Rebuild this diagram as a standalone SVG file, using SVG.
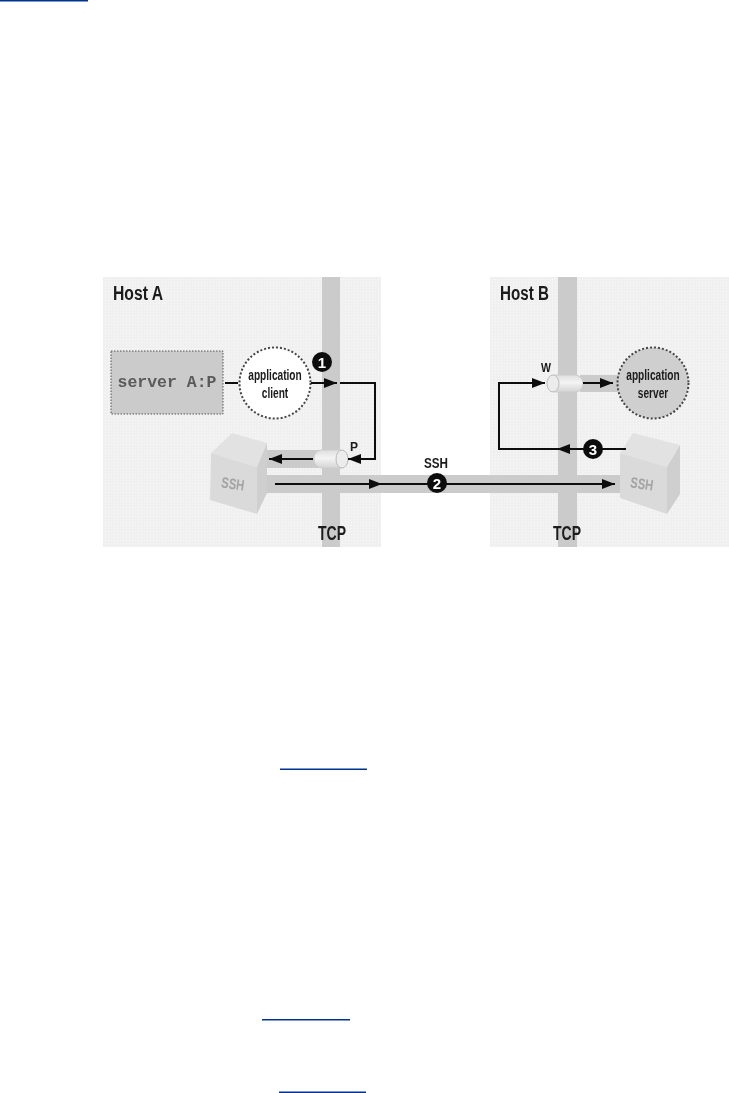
<svg xmlns="http://www.w3.org/2000/svg" width="729" height="1093" viewBox="0 0 729 1093">
<style>
.hd{font:bold 20px "Liberation Sans",Arial,sans-serif;fill:#1a1a1a}
.lb{font:bold 14.500px "Liberation Sans",Arial,sans-serif;fill:#1a1a1a;text-anchor:middle}
.sm{font:bold 13px "Liberation Sans",Arial,sans-serif;fill:#1a1a1a;text-anchor:middle}
.cu{font:bold 15px "Liberation Sans",Arial,sans-serif;fill:#a4a4a4;text-anchor:middle}
.nm{font:bold 15px "Liberation Sans",Arial,sans-serif;fill:#fff;text-anchor:middle}
.ln{fill:none;stroke:#111;stroke-width:2}
.bd{fill:#111}
.bar{fill:#cbcbcb}
.top{fill:#e2e2e2}.frt{fill:#dadada}.sid{fill:#cfcfcf}
.link{fill:#00338e}
</style>
<defs>
<pattern id="dots" width="3" height="3" patternUnits="userSpaceOnUse"><rect width="3" height="3" fill="#f0f0f0"/><rect width="1" height="1" fill="#f9f9f9"/></pattern>
<marker id="ah" viewBox="0 0 13 10" refX="13" refY="5" markerWidth="13" markerHeight="10" markerUnits="userSpaceOnUse" orient="auto"><path d="M0 0L13 5L0 10z" fill="#111"/></marker>
<linearGradient id="cyl" x1="0" y1="0" x2="0" y2="1"><stop offset="0" stop-color="#dedede"/><stop offset=".45" stop-color="#f4f4f4"/><stop offset="1" stop-color="#d4d4d4"/></linearGradient>
<filter id="soft" x="-2%" y="-2%" width="104%" height="104%"><feGaussianBlur stdDeviation="0.5"/></filter>
</defs>
<rect width="729" height="1093" fill="#fff"/>
<g id="links">
<rect class="link" x="0" y="0" width="88" height="1.5"/>
<rect class="link" x="280" y="768.5" width="87" height="1.5"/>
<rect class="link" x="262" y="1019" width="88" height="1.5"/>
<rect class="link" x="279" y="1091.5" width="87" height="1.5"/>
</g>
<g filter="url(#soft)">
<g id="host-a"><rect x="103" y="277" width="278" height="270" fill="url(#dots)"/><text class="hd" x="113" y="300" textLength="50" lengthAdjust="spacingAndGlyphs">Host A</text></g>
<g id="host-b"><rect x="490" y="277" width="239" height="270" fill="url(#dots)"/><text class="hd" x="500" y="300" textLength="49" lengthAdjust="spacingAndGlyphs">Host B</text></g>
<g id="tcp-a"><rect class="bar" x="322" y="277" width="18" height="270"/><text class="hd" x="318" y="540" textLength="28" lengthAdjust="spacingAndGlyphs">TCP</text></g>
<g id="tcp-b"><rect class="bar" x="558" y="277" width="19" height="270"/><text class="hd" x="553" y="540" textLength="28" lengthAdjust="spacingAndGlyphs">TCP</text></g>
<g id="bands">
<rect class="bar" x="265" y="450" width="60" height="18"/>
<rect class="bar" x="265" y="475" width="356" height="18"/>
<rect class="bar" x="580" y="375" width="40" height="17"/>
</g>
<g id="server-box"><rect x="111" y="351" width="112" height="63" fill="#cbcbcb" stroke="#555" stroke-width="1" stroke-dasharray="1.5 1.5"/><text x="167" y="387" font-family="Liberation Mono,monospace" font-size="16.500" font-weight="bold" fill="#5a5a5a" text-anchor="middle">server A:P</text></g>
<g id="application-client"><circle cx="275" cy="383" r="35.500" fill="#fff" stroke="#444" stroke-width="2" stroke-dasharray="2 2"/><text class="lb" transform="translate(275 380) scale(.7 1)">application</text><text class="lb" transform="translate(275 398) scale(.7 1)">client</text></g>
<g id="application-server"><circle cx="653" cy="383" r="35.500" fill="#cfcfcf" stroke="#444" stroke-width="2" stroke-dasharray="2 2"/><text class="lb" transform="translate(653 380) scale(.7 1)">application</text><text class="lb" transform="translate(653 398) scale(.7 1)">server</text></g>
<g id="ssh-a"><path class="top" d="M211 453L232 433L267 443L257 467z"/><path class="frt" d="M211 453L257 467V514L210 500z"/><path class="sid" d="M257 467L267 443V493L257 514z"/><text class="cu" x="233" y="489" transform="rotate(8 233 483)" textLength="23" lengthAdjust="spacingAndGlyphs">SSH</text></g>
<g id="ssh-b"><path class="top" d="M620 453L633 433L680 445L667 467z"/><path class="frt" d="M620 453L667 467V514L620 498z"/><path class="sid" d="M667 467L680 445V494L667 514z"/><text class="cu" x="642" y="489" transform="rotate(8 642 483)" textLength="23" lengthAdjust="spacingAndGlyphs">SSH</text></g>
<g id="port-p"><rect x="314" y="450" width="34" height="18" rx="8" fill="url(#cyl)" stroke="#ccc"/><ellipse cx="342" cy="459" rx="6" ry="9" fill="#ececec" stroke="#bbb"/><text class="sm" x="354" y="451" textLength="8" lengthAdjust="spacingAndGlyphs">P</text></g>
<g id="port-w"><rect x="548" y="375" width="35" height="17" rx="8" fill="url(#cyl)" stroke="#ccc"/><ellipse cx="553" cy="383.500" rx="6" ry="8.500" fill="#ececec" stroke="#bbb"/><text class="sm" x="546" y="372" textLength="10" lengthAdjust="spacingAndGlyphs">W</text></g>
<g id="connectors">
<path class="ln" d="M225 383H238"/>
<path class="ln" d="M311 383H337" marker-end="url(#ah)"/>
<path class="ln" d="M340 383H375V459H348" marker-end="url(#ah)"/>
<path class="ln" d="M313 459H269" marker-end="url(#ah)"/>
<path class="ln" d="M275 484H382" marker-end="url(#ah)"/>
<path class="ln" d="M380 484H615" marker-end="url(#ah)"/>
<path class="ln" d="M626 449H557" marker-end="url(#ah)"/>
<path class="ln" d="M560 449H499V383H545" marker-end="url(#ah)"/>
<path class="ln" d="M583 383H613" marker-end="url(#ah)"/>
</g>
<g id="badge-1"><circle class="bd" cx="322" cy="362" r="10"/><text class="nm" x="322" y="367.500">1</text></g>
<g id="badge-2"><circle class="bd" cx="437" cy="483" r="10"/><text class="nm" x="437" y="488.500">2</text></g>
<g id="badge-3"><circle class="bd" cx="593" cy="449" r="10"/><text class="nm" x="593" y="454.500">3</text></g>
<g id="ssh-label"><text class="lb" x="436" y="468" textLength="24" lengthAdjust="spacingAndGlyphs">SSH</text></g>
</g>
</svg>
